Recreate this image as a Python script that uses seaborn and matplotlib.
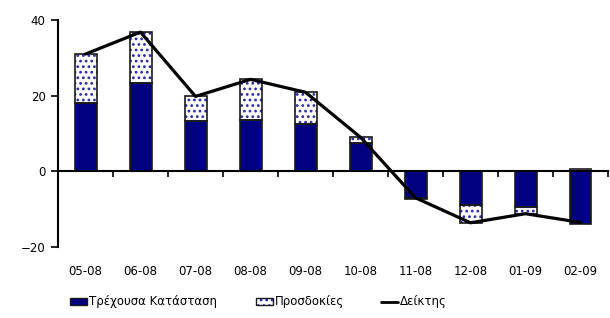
import numpy as np
import pandas as pd
import matplotlib
matplotlib.use("Agg")
import matplotlib.pyplot as plt
from matplotlib.patches import Patch
from matplotlib.lines import Line2D
import seaborn as sns

# -----------------------------
# Data
# -----------------------------
months = ["05-08", "06-08", "07-08", "08-08", "09-08",
          "10-08", "11-08", "12-08", "01-09", "02-09"]
current = [18.0, 23.3, 13.2, 13.5, 12.4, 7.4, -7.1, -8.8, -9.5, -14.0]
expect = [13.0, 13.5, 6.6, 10.8, 8.5, 1.6, -0.2, -4.8, -1.7, 0.5]
index_line = [31.0, 36.8, 19.8, 24.3, 20.9, 9.0, -7.0, -13.6, -11.2, -13.5]

lbl_cur = "Τρέχουσα Κατάσταση"
lbl_exp = "Προσδοκίες"
lbl_idx = "Δείκτης"

df = pd.DataFrame({"month": months, "current": current, "expect": expect})
# expectations stack on top of current when signs agree, else start at 0
df["bottom"] = np.where(np.sign(df["current"]) == np.sign(df["expect"]), df["current"], 0.0)

navy = "#000080"
dot_blue = "#2a2aa8"
edge = "#1a1a1a"

# -----------------------------
# Figure
# -----------------------------
sns.set_style("white")
plt.rcParams["font.family"] = ["DejaVu Sans"]
plt.rcParams["text.color"] = "black"
plt.rcParams["xtick.color"] = "black"
plt.rcParams["ytick.color"] = "black"
plt.rcParams["hatch.linewidth"] = 1.2

fig = plt.figure(figsize=(6.1, 3.18), dpi=100)
ax = fig.add_axes([58 / 610, 71 / 318, 550 / 610, 227 / 318])

# hatched part (hatch colour follows edge colour, so outline drawn separately)
sns.barplot(data=df, x="month", y="expect", order=months, bottom=df["bottom"],
            color="white", edgecolor=dot_blue, linewidth=0, hatch="...",
            width=0.4, ax=ax, zorder=2)
# current situation
sns.barplot(data=df, x="month", y="current", order=months,
            color=navy, edgecolor=edge, linewidth=1.2, saturation=1,
            width=0.4, ax=ax, zorder=3)
# outline for the hatched part
sns.barplot(data=df, x="month", y="expect", order=months, bottom=df["bottom"],
            fill=False, color=edge, linewidth=1.2,
            width=0.4, ax=ax, zorder=3)

sns.lineplot(x=np.arange(len(months)), y=index_line, color="black",
             linewidth=2.3, ax=ax, zorder=4)

# -----------------------------
# Axes styling
# -----------------------------
ax.set_ylim(-20, 40)
ax.set_xlim(-0.5, len(months) - 0.5)
ax.set_yticks([-20, 0, 20, 40])
ax.set_ylabel("")
ax.set_xlabel("")
ax.tick_params(axis="y", direction="out", length=5, width=1.2, labelsize=8.5,
               left=True, pad=4, colors="black")

for s in ["top", "right"]:
    ax.spines[s].set_visible(False)
ax.spines["left"].set_linewidth(1.5)
ax.spines["left"].set_color("black")
ax.spines["bottom"].set_position(("data", 0))
ax.spines["bottom"].set_linewidth(1.5)
ax.spines["bottom"].set_color("black")
ax.spines["bottom"].set_zorder(5)

# tick marks between categories on the zero line, no labels there
ax.set_xticks(np.arange(len(months) + 1) - 0.5)
ax.set_xticklabels([])
ax.tick_params(axis="x", direction="out", length=4, width=1.2, bottom=True,
               colors="black")

# month labels at the bottom of the plot area
sec = ax.secondary_xaxis(0)
sec.set_xticks(np.arange(len(months)))
sec.set_xticklabels(months)
sec.tick_params(axis="x", length=0, labelsize=8.5, pad=13, colors="black")
sec.spines["bottom"].set_visible(False)

# -----------------------------
# Legend (three separate entries, placed like the original)
# -----------------------------
h_cur = Patch(facecolor=navy, edgecolor=edge, linewidth=1)
h_exp = (Patch(facecolor="white", edgecolor=dot_blue, linewidth=0, hatch="..."),
         Patch(facecolor="none", edgecolor=edge, linewidth=1))
h_idx = Line2D([], [], color="black", linewidth=2)
leg_y = 1 - 302 / 318
for h, lab, x0 in [(h_cur, lbl_cur, 66), (h_exp, lbl_exp, 252), (h_idx, lbl_idx, 377)]:
    leg = fig.legend([h], [lab], loc="center left",
                     bbox_to_anchor=(x0 / 610, leg_y), frameon=False,
                     fontsize=8.5, handlelength=1.5, handleheight=0.6,
                     handletextpad=0.15, borderaxespad=0, borderpad=0.3,
                     labelcolor="black")

fig.savefig("out.png", dpi=100)
